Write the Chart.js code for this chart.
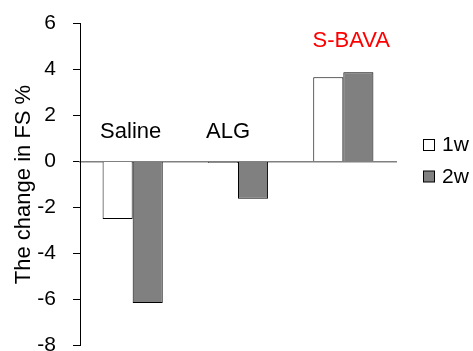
<!DOCTYPE html>
<html lang="en">
<head>
	<meta charset="UTF-8">
	<title>Change in FS</title>
	<script src="https://cdn.jsdelivr.net/npm/chart.js"></script>
	<style>
		html, body { margin: 0; padding: 0; background: #fff; overflow: hidden; }
		/* canvas is a bit taller than the window so the -8 label gets cut like the original */
		#wrap { position: relative; top: -6px; width: 473px; height: 381px; }
	</style>
</head>
<body>
	<div id="wrap"><canvas id="fsChart"></canvas></div>

	<script>
		// Data
		const groups = ['Saline', 'ALG', 'S-BAVA'];
		const week1 = [-2.5, -0.05, 3.67];
		const week2 = [-6.15, -1.62, 3.88];
		const seriesNames = ['1w', '2w'];
		const yTicks = [-8, -6, -4, -2, 0, 2, 4, 6];

		// Label placement (style only): x offset in px, anchor height in data units
		const groupColors = ['#000000', '#000000', '#ff0000'];
		const labelDx = [-2, -10, 8];
		const labelAt = [1.3, 1.3, 5.25];

		const FONT = '"Liberation Sans", Arial, sans-serif';

		// Category names above the bars + legend on the right
		const annotate = {
			id: 'annotate',
			afterDraw(chart) {
				const { ctx, scales: { x, y } } = chart;
				ctx.save();
				ctx.font = '22px ' + FONT;
				ctx.textAlign = 'center';
				ctx.textBaseline = 'middle';
				groups.forEach((g, i) => {
					ctx.fillStyle = groupColors[i];
					ctx.fillText(g, x.getPixelForValue(i) + labelDx[i], y.getPixelForValue(labelAt[i]));
				});

				// legend, placed next to the zero line
				const y0 = y.getPixelForValue(0);
				ctx.font = '21px ' + FONT;
				ctx.textAlign = 'left';
				chart.data.datasets.forEach((ds, i) => {
					const top = Math.round(y0 - 23) + i * 31.5;
					ctx.fillStyle = ds.backgroundColor;
					ctx.fillRect(423.5, top + 0.5, 11, 11);
					ctx.strokeStyle = '#000';
					ctx.lineWidth = 1;
					ctx.strokeRect(423.5, top + 0.5, 11, 11);
					ctx.fillStyle = '#000';
					ctx.fillText(ds.label, 442, top + 6.5);
				});
				ctx.restore();
			}
		};

		new Chart(document.getElementById('fsChart'), {
			type: 'bar',
			data: {
				labels: groups,
				datasets: [
					{ label: seriesNames[0], data: week1, backgroundColor: '#ffffff', borderColor: '#000000', borderWidth: 1 },
					{ label: seriesNames[1], data: week2, backgroundColor: '#808080', borderColor: '#000000', borderWidth: 1 }
				]
			},
			options: {
				responsive: true,
				maintainAspectRatio: false,
				animation: false,
				events: [],
				datasets: { bar: { categoryPercentage: 0.571, barPercentage: 1.0 } },
				layout: { padding: { top: 0, right: 77, bottom: 0, left: 0 } },
				plugins: { legend: { display: false }, tooltip: { enabled: false } },
				scales: {
					x: {
						position: { y: 0 },
						grid: { display: false },
						ticks: { display: false },
						border: { display: true, color: '#808080', width: 1.5 }
					},
					y: {
						min: -8,
						max: 6,
						afterBuildTicks(scale) { scale.ticks = yTicks.map(v => ({ value: v })); },
						afterFit(scale) { scale.width = 80; },
						grid: { drawOnChartArea: false, drawTicks: true, tickLength: 7, color: '#000000' },
						border: { display: true, color: '#000000', width: 1 },
						ticks: { padding: 17, color: '#000000', font: { family: FONT, size: 21 } },
						title: {
							display: true,
							text: 'The change in FS %',
							color: '#000000',
							padding: { top: 11, bottom: 0 },
							font: { family: FONT, size: 22 }
						}
					}
				}
			},
			plugins: [annotate]
		});
	</script>
</body>
</html>
